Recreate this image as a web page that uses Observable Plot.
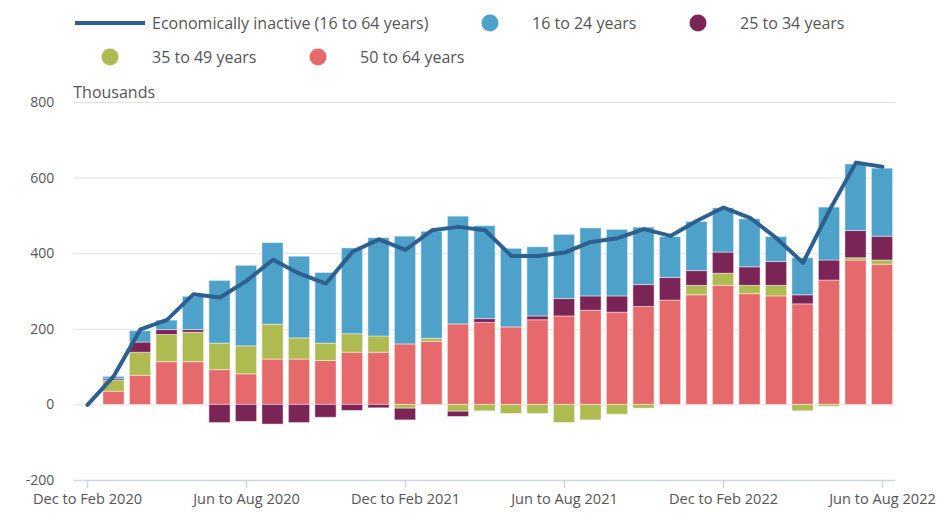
<!DOCTYPE html>
<html><head><meta charset="utf-8">
<script src="https://cdn.jsdelivr.net/npm/d3@7"></script>
<script src="https://cdn.jsdelivr.net/npm/@observablehq/plot@0.6"></script>
<style>
body{margin:0;background:#fff;font-family:"Open Sans",sans-serif;}
#legend{position:relative;height:80px;width:944px;}
.item{position:absolute;font-size:16px;color:#555;line-height:20px;white-space:nowrap;transform:translateY(-50%);}
.dot{position:absolute;width:17px;height:17px;border-radius:50%;transform:translate(-50%,-50%);}
.sw{position:absolute;width:70px;height:4px;transform:translateY(-50%);}
#chart svg{display:block;}
</style></head>
<body><div id="legend"></div><div id="chart"></div>
<script>
const periods = [
  "Dec to Feb 2020","Jan to Mar 2020","Feb to Apr 2020","Mar to May 2020","Apr to Jun 2020","May to Jul 2020",
  "Jun to Aug 2020","Jul to Sep 2020","Aug to Oct 2020","Sep to Nov 2020","Oct to Dec 2020","Nov to Jan 2021",
  "Dec to Feb 2021","Jan to Mar 2021","Feb to Apr 2021","Mar to May 2021","Apr to Jun 2021","May to Jul 2021",
  "Jun to Aug 2021","Jul to Sep 2021","Aug to Oct 2021","Sep to Nov 2021","Oct to Dec 2021","Nov to Jan 2022",
  "Dec to Feb 2022","Jan to Mar 2022","Feb to Apr 2022","Mar to May 2022","Apr to Jun 2022","May to Jul 2022",
  "Jun to Aug 2022"
];
const inactive16to64 = [0,77,200,225,293,284,328,384,347,321,405,438,410,462,471,462,394,394,403,431,441,465,447,487,522,495,441,376,515,641,630];
const age50to64 = [0,35,77,113,113,92,81,120,120,116,138,138,160,167,213,217,205,224,234,249,244,259,276,290,315,293,287,266,329,382,371];
const age35to49 = [0,29,61,72,78,70,74,92,56,46,49,43,-10,8,-18,-17,-24,-24,-48,-41,-26,-10,0,25,32,22,28,-17,-5,6,11];
const age25to34 = [0,4,27,13,7,-48,-45,-52,-48,-34,-16,-9,-31,0,-14,10,0,10,46,38,43,58,60,39,56,49,63,24,53,72,63];
const age16to24 = [0,6,30,25,88,166,213,216,216,187,227,260,285,283,285,246,208,183,170,180,176,152,108,130,117,127,66,98,140,176,180];
const seriesNames = ["16 to 24 years","25 to 34 years","35 to 49 years","50 to 64 years"];
const seriesColors = ["#4ea1c9","#7b2456","#adbb50","#e66a6b"];
const lineName = "Economically inactive (16 to 64 years)";
const lineColor = "#2d5f8f";
const xTicks = ["Dec to Feb 2020","Jun to Aug 2020","Dec to Feb 2021","Jun to Aug 2021","Dec to Feb 2022","Jun to Aug 2022"];
const yTicks = [-200,0,200,400,600,800];

// legend
const legend = document.getElementById("legend");
function add(html){ legend.insertAdjacentHTML("beforeend", html); }
add(`<div class="sw" style="left:75px;top:23px;background:${lineColor}"></div><div class="item" style="left:152px;top:23px">${lineName}</div>`);
const legendPos = [[490,532,23],[698,740,23],[110,152,57],[318,360,57]];
seriesNames.forEach((n,k)=>{
  const [dx,tx,y] = legendPos[k];
  add(`<div class="dot" style="left:${dx}px;top:${y}px;background:${seriesColors[k]}"></div><div class="item" style="left:${tx}px;top:${y}px">${n}</div>`);
});

// table: stacking order bottom to top = 50-64, 35-49, 25-34, 16-24
const stackSeries = [["50 to 64 years",age50to64],["35 to 49 years",age35to49],["25 to 34 years",age25to34],["16 to 24 years",age16to24]];
const table = [];
periods.forEach((p,i)=>{
  stackSeries.forEach(([name,arr])=>{ if (i>0 && arr[i]!==0) table.push({period:p, series:name, value:arr[i]}); });
});
const lineData = periods.map((p,i)=>({period:p, value:inactive16to64[i]}));

const chart = Plot.plot({
  width: 944, height: 452,
  marginLeft: 73.75, marginRight: 48.75, marginTop: 22, marginBottom: 52,
  style: {fontFamily: '"Open Sans", sans-serif', fontSize: "14.6px", color: "#555", background: "#fff"},
  x: {type: "band", domain: periods, paddingInner: 0.2, paddingOuter: 0.1, align: 0.5, round: false, axis: null},
  y: {domain: [-200, 800], axis: null},
  color: {domain: seriesNames, range: seriesColors},
  marks: [
    Plot.gridY(yTicks.filter(d=>d>-200), {stroke: "#e2e2e2", strokeOpacity: 1, strokeWidth: 1}),
    Plot.ruleY([-200], {stroke: "#cdd4e4", strokeWidth: 1.5}),
    Plot.axisY(yTicks, {tickSize: 0, tickPadding: 20, fontSize: 14, fill: "#555", label: null, tickFormat: d => String(d)}),
    Plot.axisX(xTicks, {tickSize: 8, tickPadding: 5, stroke: "#cdd4e4", strokeWidth: 1.5, fill: "#555", fontSize: 14.6, label: null}),
    Plot.text(["Thousands"], {frameAnchor: "top-left", dy: -16, dx: -1, textAnchor: "start", fontSize: 16, fill: "#555"}),
    Plot.barY(table, {x: "period", y: "value", fill: "series", stroke: "#ffffff", strokeOpacity: 0.45, strokeWidth: 1}),
    Plot.line(lineData, {x: "period", y: "value", stroke: lineColor, strokeWidth: 4})
  ]
});
document.getElementById("chart").appendChild(chart);
</script>
</body></html>
